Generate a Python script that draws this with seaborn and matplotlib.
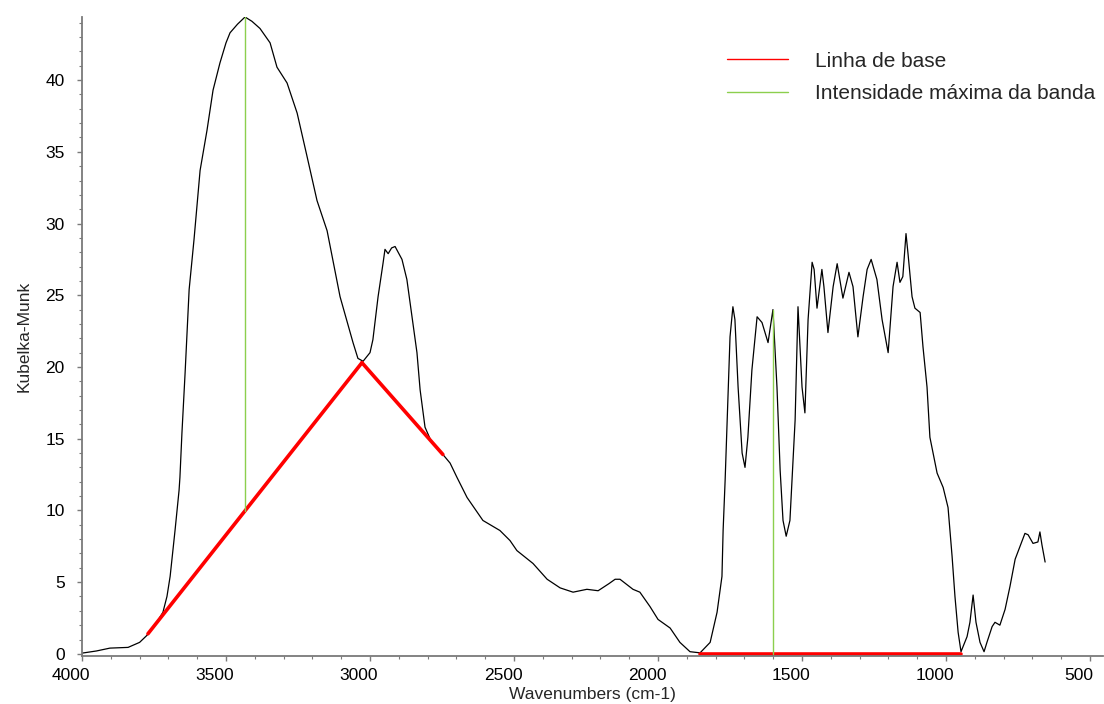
import numpy as np
import pandas as pd
import seaborn as sns
import matplotlib.pyplot as plt
from matplotlib.lines import Line2D
from matplotlib.ticker import MultipleLocator
from matplotlib.transforms import ScaledTranslation

# spectrum (wavenumber, Kubelka-Munk)
wavenumber = [4000, 3950, 3903, 3840, 3800, 3774, 3740, 3719, 3705, 3694, 3677, 3663, 3660,
              3653, 3642, 3628, 3611, 3590, 3566, 3545, 3521, 3500, 3486, 3460, 3434, 3410,
              3382, 3347, 3323, 3288, 3253, 3220, 3184, 3149, 3104, 3059, 3042, 3024, 3000,
              2990, 2972, 2955, 2948, 2937, 2925, 2913, 2889, 2872, 2854, 2837, 2826, 2809,
              2785, 2747, 2722, 2698, 2663, 2608, 2549, 2514, 2490, 2434, 2385, 2340, 2295,
              2247, 2208, 2170, 2149, 2132, 2087, 2063, 2028, 2000, 1958, 1924, 1889, 1854,
              1819, 1795, 1778, 1774, 1767, 1760, 1750, 1740, 1733, 1722, 1708, 1698, 1688,
              1674, 1656, 1639, 1618, 1601, 1587, 1576, 1566, 1555, 1542, 1524, 1514, 1500,
              1490, 1479, 1465, 1458, 1448, 1431, 1424, 1410, 1392, 1378, 1358, 1337, 1323,
              1306, 1288, 1274, 1260, 1240, 1222, 1201, 1184, 1170, 1160, 1150, 1139, 1132,
              1118, 1108, 1090, 1080, 1066, 1056, 1031, 1010, 993, 979, 969, 958, 948, 927,
              917, 906, 896, 882, 868, 858, 840, 830, 813, 795, 778, 760, 743, 726, 715, 698,
              681, 674, 667, 656]
km = [0.05, 0.2, 0.4, 0.45, 0.8, 1.3, 2.2, 2.9, 4.0, 5.4, 8.6, 11.4, 12.3,
      15.4, 19.6, 25.4, 28.9, 33.7, 36.5, 39.3, 41.2, 42.6, 43.3, 43.9, 44.4, 44.1,
      43.6, 42.6, 40.9, 39.8, 37.7, 34.8, 31.6, 29.5, 24.9, 21.7, 20.6, 20.4, 21.0,
      21.9, 24.9, 27.2, 28.2, 27.9, 28.3, 28.4, 27.5, 26.1, 23.5, 21.0, 18.4, 15.8,
      14.7, 13.9, 13.3, 12.3, 10.9, 9.3, 8.6, 7.9, 7.2, 6.3, 5.2, 4.6, 4.3,
      4.5, 4.4, 4.9, 5.2, 5.2, 4.5, 4.3, 3.3, 2.4, 1.8, 0.8, 0.15, 0.07,
      0.8, 2.9, 5.4, 8.6, 12.1, 16.3, 22.1, 24.2, 23.3, 18.6, 14.0, 13.0, 15.1,
      19.8, 23.5, 23.1, 21.7, 24.0, 18.6, 12.8, 9.3, 8.2, 9.3, 16.3, 24.2, 18.6,
      16.8, 23.3, 27.3, 26.8, 24.1, 26.8, 25.6, 22.4, 25.6, 27.2, 24.8, 26.6, 25.6,
      22.1, 24.9, 26.8, 27.5, 26.1, 23.3, 21.0, 25.6, 27.3, 25.9, 26.3, 29.3, 27.9,
      24.9, 24.1, 23.8, 21.4, 18.6, 15.1, 12.6, 11.6, 10.2, 6.8, 4.0, 1.5, 0.15, 1.2,
      2.2, 4.1, 2.2, 0.8, 0.15, 0.8, 1.9, 2.2, 2.0, 3.1, 4.7, 6.6, 7.5, 8.4, 8.3, 7.7,
      7.8, 8.5, 7.6, 6.4]

# baseline segments (red)
base1_x = [3771, 3028]
base1_y = [1.4, 20.3]
base2_x = [3028, 2747]
base2_y = [20.3, 13.9]
base3_x = [1854, 948]
base3_y = [0, 0]

# band maximum lines (green)
max1_x = [3434, 3434]
max1_y = [9.97, 44.4]
max2_x = [1600, 1600]
max2_y = [0, 24.0]

RED = '#ff0000'
GREEN = '#8ccf4d'
GREY = '#7a7a7a'

sns.set_style('ticks')
plt.rcParams['font.family'] = ['Liberation Sans', 'DejaVu Sans']

fig = plt.figure(figsize=(11.04, 7.04), dpi=100)
ax = fig.add_axes([82 / 1104, 48 / 704, 1021 / 1104, 639 / 704])

spec = pd.DataFrame({'wn': wavenumber, 'km': km})
sns.lineplot(data=spec, x='wn', y='km', sort=False, estimator=None,
             color='black', linewidth=0.9, ax=ax)

for bx, by in [(base1_x, base1_y), (base2_x, base2_y), (base3_x, base3_y)]:
    sns.lineplot(x=bx, y=by, sort=False, estimator=None, color=RED, linewidth=2.6, ax=ax)
for gx, gy in [(max1_x, max1_y), (max2_x, max2_y)]:
    sns.lineplot(x=gx, y=gy, sort=False, estimator=None, color=GREEN, linewidth=1.0, ax=ax)

ax.set_xlim(4000, 455)
ax.set_ylim(-0.15, 44.4)
ax.xaxis.set_major_locator(MultipleLocator(500))
ax.xaxis.set_minor_locator(MultipleLocator(100))
ax.yaxis.set_major_locator(MultipleLocator(5))
ax.yaxis.set_minor_locator(MultipleLocator(1))

for side in ['top', 'right']:
    ax.spines[side].set_visible(False)
for side in ['left', 'bottom']:
    ax.spines[side].set_color(GREY)
    ax.spines[side].set_linewidth(1.3)

ax.tick_params(which='major', length=3.5, width=1, color=GREY, labelsize=12.5,
               labelcolor='black')
ax.tick_params(which='minor', length=2, width=0.8, color=GREY)
ax.tick_params(axis='y', which='major', pad=9)
ax.tick_params(axis='x', which='major', pad=5)

# x tick labels sit slightly left of their ticks in the original
shift = ScaledTranslation(-0.11, 0, fig.dpi_scale_trans)
for lab in ax.get_xticklabels():
    lab.set_transform(lab.get_transform() + shift)

ax.set_xlabel('Wavenumbers (cm-1)', fontsize=12.5, labelpad=3)
ax.set_ylabel('Kubelka-Munk', fontsize=12.5, labelpad=10)

handles = [Line2D([], [], color=RED, linewidth=1),
           Line2D([], [], color=GREEN, linewidth=1)]
ax.legend(handles, ['Linha de base', 'Intensidade máxima da banda'],
          loc='upper left', bbox_to_anchor=(0.632, 0.946), frameon=False,
          fontsize=15, handlelength=2.9, handletextpad=1.3, labelspacing=0.65,
          borderpad=0, borderaxespad=0)

plt.savefig('out.png', dpi=100)
